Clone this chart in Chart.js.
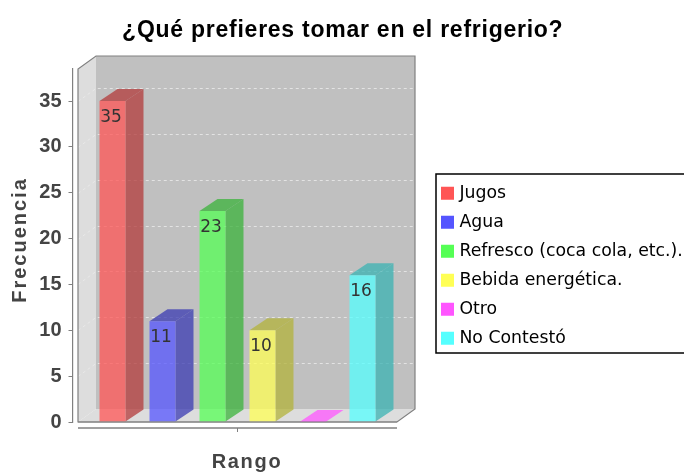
<!DOCTYPE html>
<html>
<head>
<meta charset="utf-8">
<title>Refrigerio</title>
<script src="https://cdn.jsdelivr.net/npm/chart.js@4"></script>
<style>
  html, body { margin: 0; padding: 0; background: #fff; overflow: hidden; }
  #chart { display: block; filter: blur(0.35px); }
</style>
</head>
<body>
<canvas id="chart" width="684" height="473"></canvas>
<script>
const categories = ['']
const series = ['Jugos', 'Agua', 'Refresco (coca cola, etc.).', 'Bebida energética.', 'Otro', 'No Contestó']
const values = [35, 11, 23, 10, 0, 16]
const colors = ['#FF5555', '#5555FF', '#55FF55', '#FFFF55', '#FF55FF', '#55FFFF']
const yTicksStep = 5
const yMax = 38.5

const titleText = '¿Qué prefieres tomar en el refrigerio?'
const yTitle = 'Frecuencia'
const xTitle = 'Rango'

// profundidad del efecto 3D
const depthX = 18
const depthY = 13
const barDepthY = 12
const axisGap = 5.5

function shade(hex, k, alpha) {
    const n = parseInt(hex.slice(1), 16)
    const r = Math.round((n >> 16 & 255) * k)
    const g = Math.round((n >> 8 & 255) * k)
    const b = Math.round((n & 255) * k)
    return `rgba(${r},${g},${b},${alpha})`
}

function poly(ctx, pts, fill) {
    ctx.beginPath()
    pts.forEach((p, i) => i ? ctx.lineTo(p[0], p[1]) : ctx.moveTo(p[0], p[1]))
    ctx.closePath()
    ctx.fillStyle = fill
    ctx.fill()
}

const plot3d = {
    id: 'plot3d',
    afterLayout(chart) {
        // la leyenda va separada del grafico
        const lg = chart.legend
        lg.left = 432.55
        lg.right = 690
        lg.top = 173
        lg.bottom = 473

        // el titulo va centrado en todo el lienzo y con algo de espacio entre letras
        const tb = chart.titleBlock
        if (!tb._spaced) {
            const drawTitle = tb.draw
            tb.draw = function () {
                chart.ctx.save()
                chart.ctx.translate(21.5, 0)
                chart.ctx.letterSpacing = '0.75px'
                drawTitle.call(tb)
                chart.ctx.restore()
            }
            tb._spaced = true
        }
    },
    beforeDatasetsDraw(chart) {
        const ctx = chart.ctx
        const area = chart.chartArea
        const y = chart.scales.y
        const l = area.left + axisGap
        const r = area.right - axisGap
        const t = area.top
        const b = area.bottom

        ctx.save()
        // paredes
        poly(ctx, [[l + depthX, t - depthY], [r + depthX, t - depthY], [r + depthX, b - depthY], [l + depthX, b - depthY]], '#C0C0C0')
        poly(ctx, [[l, t], [l + depthX, t - depthY], [l + depthX, b - depthY], [l, b]], '#DDDDDD')
        poly(ctx, [[l, b], [l + depthX, b - depthY], [r + depthX, b - depthY], [r, b]], '#DDDDDD')

        // rejilla
        ctx.strokeStyle = 'rgba(235,235,235,0.8)'
        ctx.lineWidth = 1
        ctx.setLineDash([3, 3])
        y.ticks.forEach(tk => {
            if (tk.value === 0) return
            const py = Math.round(y.getPixelForValue(tk.value)) + 0.5
            ctx.beginPath()
            ctx.moveTo(l, py)
            ctx.lineTo(l + depthX, py - depthY)
            ctx.lineTo(r + depthX, py - depthY)
            ctx.stroke()
        })
        ctx.setLineDash([])

        // bordes del plano
        ctx.strokeStyle = '#808080'
        ctx.lineWidth = 1.2
        ctx.beginPath()
        ctx.moveTo(l, b)
        ctx.lineTo(l, t)
        ctx.lineTo(l + depthX, t - depthY)
        ctx.lineTo(r + depthX, t - depthY)
        ctx.lineTo(r + depthX, b - depthY)
        ctx.lineTo(r, b)
        ctx.closePath()
        ctx.stroke()

        // linea del eje x
        ctx.lineWidth = 1.4
        ctx.beginPath()
        ctx.moveTo(l, b + 6)
        ctx.lineTo(r, b + 6)
        ctx.stroke()

        // caras laterales y superiores de las barras
        chart.data.datasets.forEach((ds, i) => {
            const bar = chart.getDatasetMeta(i).data[0].getProps(['x', 'y', 'base', 'width'], true)
            const x0 = bar.x - bar.width / 2
            const x1 = bar.x + bar.width / 2
            const dark = shade(colors[i], 0.7, 0.75)
            if (bar.y < bar.base) {
                poly(ctx, [[x1, bar.y], [x1 + depthX, bar.y - barDepthY], [x1 + depthX, bar.base - barDepthY], [x1, bar.base]], dark)
                poly(ctx, [[x0, bar.y], [x0 + depthX, bar.y - barDepthY], [x1 + depthX, bar.y - barDepthY], [x1, bar.y]], dark)
            } else {
                poly(ctx, [[x0, bar.y], [x0 + depthX, bar.y - barDepthY], [x1 + depthX, bar.y - barDepthY], [x1, bar.y]], shade(colors[i], 1, 0.75))
            }
        })
        ctx.restore()
    },
    afterDatasetsDraw(chart) {
        const ctx = chart.ctx
        ctx.save()
        // linea del suelo por delante de las barras
        const area = chart.chartArea
        ctx.strokeStyle = '#808080'
        ctx.lineWidth = 1.2
        ctx.beginPath()
        ctx.moveTo(area.left + axisGap, area.bottom)
        ctx.lineTo(area.right - axisGap, area.bottom)
        ctx.stroke()

        ctx.font = '17px "DejaVu Sans"'
        ctx.fillStyle = '#333'
        ctx.textAlign = 'center'
        ctx.textBaseline = 'middle'
        chart.data.datasets.forEach((ds, i) => {
            if (!values[i]) return
            const bar = chart.getDatasetMeta(i).data[0].getProps(['x', 'y'], true)
            ctx.fillText(String(values[i]), bar.x - 1.5, bar.y + 16)
        })
        ctx.restore()
    },
    afterDraw(chart) {
        const ctx = chart.ctx
        ctx.save()
        // marco de la leyenda
        ctx.strokeStyle = '#000'
        ctx.lineWidth = 1.5
        ctx.strokeRect(436, 174, 249, 179)
        // titulos de los ejes
        ctx.fillStyle = '#444'
        ctx.font = 'bold 20px "Liberation Sans"'
        ctx.letterSpacing = '1.7px'
        ctx.textAlign = 'center'
        ctx.textBaseline = 'middle'
        ctx.fillText(xTitle, 247, 462)
        ctx.letterSpacing = '2px'
        ctx.translate(20, 240)
        ctx.rotate(-Math.PI / 2)
        ctx.fillText(yTitle, 0, 0)
        ctx.restore()
    }
}

new Chart(document.getElementById('chart'), {
    type: 'bar',
    data: {
        labels: categories,
        datasets: series.map((name, i) => ({
            label: name,
            data: [values[i]],
            backgroundColor: shade(colors[i], 1, 0.75),
            borderWidth: 0,
            categoryPercentage: 300 / 330,
            barPercentage: 0.52
        }))
    },
    options: {
        responsive: false,
        animation: false,
        layout: { padding: { left: 0, right: 41.5, top: 0, bottom: 51 } },
        plugins: {
            title: {
                display: true,
                text: titleText,
                color: '#000',
                font: { family: '"Liberation Sans"', size: 23, weight: 'bold', lineHeight: 1.2 },
                padding: { top: 17.2, bottom: 24.2 }
            },
            legend: {
                position: 'right',
                align: 'start',
                maxWidth: 240,
                labels: {
                    font: { family: '"DejaVu Sans"', size: 17.3 },
                    color: '#444',
                    // cuadro de 6.5 + trazo de 6.5 = 13 px, asi el texto queda mas cerca
                    boxWidth: 6.5,
                    boxHeight: 6.5,
                    padding: 11.7,
                    generateLabels: chart => series.map((name, i) => ({
                        text: name,
                        fillStyle: colors[i],
                        strokeStyle: colors[i],
                        lineWidth: 6.5,
                        datasetIndex: i
                    }))
                }
            },
            tooltip: { enabled: false }
        },
        scales: {
            x: {
                position: { y: -0.7 },
                grid: { drawOnChartArea: false, offset: false, tickLength: 4, color: '#808080' },
                border: { display: false },
                ticks: { display: false }
            },
            y: {
                min: 0,
                max: yMax,
                afterFit: s => { s.width = 72.5 },
                grid: { drawOnChartArea: false, tickLength: 4, color: '#808080' },
                border: { color: '#808080', width: 1.2 },
                ticks: {
                    stepSize: yTicksStep,
                    includeBounds: false,
                    padding: 7,
                    color: '#444',
                    font: { family: '"Liberation Sans"', size: 20, weight: 'bold' }
                }
            }
        }
    },
    plugins: [plot3d]
})
</script>
</body>
</html>
